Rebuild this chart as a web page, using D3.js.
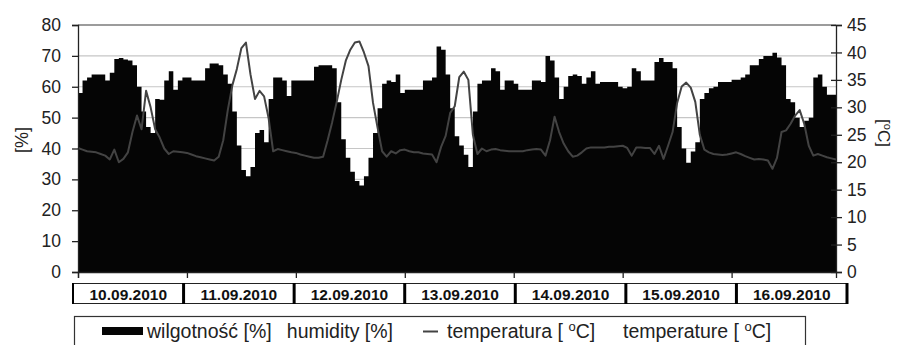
<!DOCTYPE html>
<html><head><meta charset="utf-8">
<script src="https://cdn.jsdelivr.net/npm/d3@7"></script>
<style>body{margin:0;background:#fff}svg{display:block;font-family:"Liberation Sans",Arial,sans-serif}</style>
</head><body><svg id="c" width="900" height="345"></svg>
<script>
const days = ["10.09.2010","11.09.2010","12.09.2010","13.09.2010","14.09.2010","15.09.2010","16.09.2010"];
const humidity = [
58,62,63,64,64,64,62,64.5,69,69.3,68.8,68.5,67,60,52,47,45,56,55.8,62,65,59,62,63,
63,62,62,62,66,67.5,67.5,67,64,61,52,41,33,31,34,45,46,42,56,63,63,62,57,62,
62,62,62,62,66.5,67,67,67,66,55,43,37,32.5,29.5,28,31,37,45,53,61,62,61.5,64,58,
59,59,59,59,62,62,63,73,72,64,53,44,41,38,34,52,61,62,62,66,65,59,62,62,
61,59,59,59,62,62,61.5,70,68.5,63,56,60,63.5,64,63.5,61,63,65,61,61.5,61.5,61.5,61.5,60,
59.5,60,66,65,62,62,62,68,69.3,68,68,66,47,40,35.4,39,42,56,58,59.5,60,61.5,61.5,61.5,
62.3,62.3,63,64,67,67,69,70,70,71,69.5,67,56,55,50,47,49,50,63,64,60,57.4,57.4,57];
const temperature = [
22.6,22.3,22.0,21.9,21.8,21.5,21.2,20.5,22.3,20.0,20.6,21.8,25.5,28.5,26,33,30,26,24.5,22.5,21.5,22,21.9,21.8,
21.7,21.4,21.1,20.9,20.7,20.5,20.3,21,24,29.5,34,37,40.8,41.8,36,31.5,33,32,28,22,22.4,22.2,22,21.8,
21.7,21.4,21.2,21,20.8,20.8,21,24,27.3,31,35,38.5,40.5,41.8,42,40,37.5,30.8,26.3,22,21,22,21.6,22.2,
22.3,22,21.8,21.8,21.6,21.5,21.4,20,22.8,24.8,29,30.2,35.5,36.5,35,25,21.5,22.5,22,22.3,22.4,22.2,22.1,22,
22,22,22,22.2,22.3,22.4,22.3,21.2,24,28.3,25.5,23.4,22,21,21.2,21.8,22.5,22.7,22.7,22.7,22.7,22.8,22.8,22.9,
23,22.6,21.2,22.7,22.7,22.6,22.6,21.5,23,20.6,23,25.5,30.8,33.8,34.5,33.6,31,25,22.3,21.8,21.5,21.4,21.3,21.4,
21.6,21.8,21.5,21.1,20.8,20.5,20.6,20.5,20.3,18.8,20.8,25.5,25.8,27,28.5,29.5,27,23,21.2,21.5,21.2,20.9,20.7,20.5];
const humTicks = [0,10,20,30,40,50,60,70,80];
const tempTicks = [0,5,10,15,20,25,30,35,40,45];
const dayTickHours = [0,24,48,72,96,120,144];

const svg = d3.select("#c");
const L = 78, R = 836, T = 25, B = 272;
const x = d3.scaleLinear().domain([0, humidity.length - 1]).range([L, R]);
const yH = d3.scaleLinear().domain([0, 80]).range([B, T]);
const yT = d3.scaleLinear().domain([0, 45]).range([B, T]);

// gridlines
svg.append("g").selectAll("line").data(humTicks.slice(1, -1)).join("line")
  .attr("x1", L).attr("x2", R).attr("y1", d => yH(d)).attr("y2", d => yH(d))
  .attr("stroke", "#c6c6c6").attr("stroke-width", 1.2);
svg.append("line").attr("x1", L).attr("x2", R).attr("y1", yH(80)).attr("y2", yH(80))
  .attr("stroke", "#3a3a3a").attr("stroke-width", 1.2);

// humidity area
const idx = d3.range(humidity.length);
svg.append("path").datum(idx)
  .attr("d", d3.area().curve(d3.curveStepAfter).x(i => x(i)).y0(B).y1(i => yH(humidity[i])))
  .attr("fill", "#050505");

// temperature line
svg.append("path").datum(idx)
  .attr("d", d3.line().x(i => x(i)).y(i => yT(temperature[i])))
  .attr("fill", "none").attr("stroke", "#434343").attr("stroke-width", 2).attr("stroke-linejoin", "round");

// axes
const axL = svg.append("g").attr("transform", `translate(${L},0)`)
  .call(d3.axisLeft(yH).tickValues(humTicks).tickSize(6).tickPadding(11));
const axR = svg.append("g").attr("transform", `translate(${R},0)`)
  .call(d3.axisRight(yT).tickValues(tempTicks).tickSize(6).tickPadding(5));
const axB = svg.append("g").attr("transform", `translate(0,${B})`)
  .call(d3.axisBottom(x).tickValues(dayTickHours).tickSize(6).tickFormat(""));
[axL, axR, axB].forEach(g => {
  g.select(".domain").attr("stroke", "#222").attr("stroke-width", 1.3);
  g.selectAll(".tick line").attr("stroke", "#222").attr("stroke-width", 1.3);
  g.selectAll("text").attr("font-size", 17.5).attr("fill", "#222").attr("font-family", "Liberation Sans, Arial, sans-serif");
});
axR.selectAll(".tick line").attr("x1", -5);

// axis titles
svg.append("text").attr("transform", "translate(28,140) rotate(-90)")
  .attr("text-anchor", "middle").attr("font-size", 18).attr("fill", "#222").text("[%]");
const tt = svg.append("text").attr("transform", "translate(878,133) rotate(90)")
  .attr("text-anchor", "middle").attr("font-size", 17).attr("fill", "#222");
tt.append("tspan").text("[");
tt.append("tspan").attr("font-size", 11).attr("dy", -6).text("o");
tt.append("tspan").attr("dy", 6).text("C]");

// date boxes
const band = d3.scaleBand().domain(days).range([73, 847]);
const dg = svg.append("g");
dg.append("line").attr("x1", 73).attr("x2", 847).attr("y1", 283.5).attr("y2", 283.5).attr("stroke", "#222").attr("stroke-width", 1.2);
dg.append("line").attr("x1", 73).attr("x2", 847).attr("y1", 303.5).attr("y2", 303.5).attr("stroke", "#222").attr("stroke-width", 1.2);
dg.selectAll("line.sep").data(days.concat(["end"])).join("line").attr("class", "sep")
  .attr("x1", (d, i) => i < days.length ? band(d) : 847).attr("x2", (d, i) => i < days.length ? band(d) : 847)
  .attr("y1", 283).attr("y2", 304).attr("stroke", "#000").attr("stroke-width", (d, i) => i === 0 ? 2 : 3);
dg.selectAll("text").data(days).join("text")
  .attr("x", d => band(d) + band.bandwidth() / 2).attr("y", 299.5)
  .attr("text-anchor", "middle").attr("font-family", "'Liberation Sans Narrow','Liberation Sans',Arial,sans-serif")
  .attr("font-weight", "bold").attr("font-size", 15.5).attr("fill", "#111").text(d => d);

// legend
const lg = svg.append("g");
lg.append("rect").attr("x", 74.5).attr("y", 316.5).attr("width", 731).attr("height", 50)
  .attr("fill", "#fff").attr("stroke", "#333").attr("stroke-width", 1.2);
lg.append("rect").attr("x", 102).attr("y", 327).attr("width", 41).attr("height", 8).attr("fill", "#050505");
lg.append("text").attr("x", 147).attr("y", 338).attr("font-size", 19.5).attr("fill", "#222").text("wilgotność [%]");
lg.append("text").attr("x", 393).attr("y", 338).attr("text-anchor", "end").attr("font-size", 19.5).attr("fill", "#222").text("humidity [%]");
lg.append("line").attr("x1", 423).attr("x2", 438).attr("y1", 331.5).attr("y2", 331.5).attr("stroke", "#434343").attr("stroke-width", 2);
function degText(xp, label) {
  const t = lg.append("text").attr("x", xp).attr("y", 338).attr("font-size", 19.5).attr("fill", "#222");
  t.append("tspan").text(label + " [ ");
  t.append("tspan").attr("font-size", 13).attr("dy", -7).text("o");
  t.append("tspan").attr("dy", 7).text("C]");
}
degText(447, "temperatura");
degText(623, "temperature");
</script></body></html>
